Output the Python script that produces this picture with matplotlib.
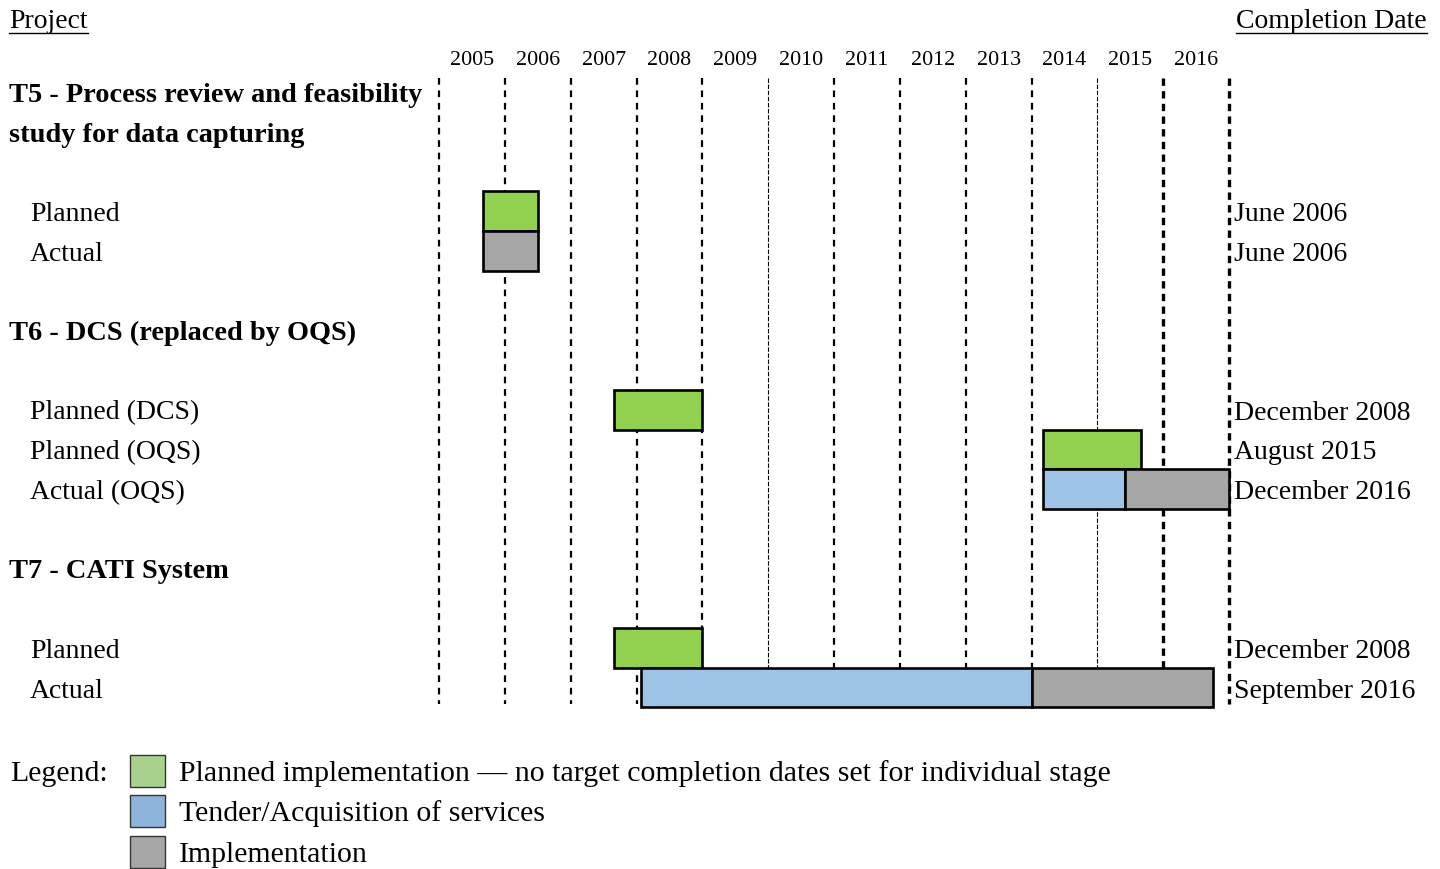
import matplotlib
matplotlib.use("Agg")
import matplotlib.pyplot as plt
from matplotlib import transforms
from matplotlib.patches import Rectangle
from matplotlib.lines import Line2D

plt.rcParams['font.family'] = ['Liberation Serif', 'DejaVu Serif']

# ---------------- data ----------------
years = list(range(2005, 2017))
header_lines = ["T5 - Process review and feasibility",
                "study for data capturing",
                "T6 - DCS (replaced by OQS)",
                "T7 - CATI System"]
header_rows = [0, 1, 6, 12]

row_labels = ["Planned", "Actual",
              "Planned (DCS)", "Planned (OQS)", "Actual (OQS)",
              "Planned", "Actual"]
row_index = [3, 4, 8, 9, 10, 14, 15]
completion = ["June 2006", "June 2006",
              "December 2008", "August 2015", "December 2016",
              "December 2008", "September 2016"]

# segments: (row position in row_labels, start year, end year, kind)
seg_row = [0, 1, 2, 3, 4, 4, 5, 6, 6]
seg_start = [2005.67, 2005.67, 2007.66, 2014.17, 2014.17, 2015.42, 2007.66, 2008.07, 2014.0]
seg_end = [2006.5, 2006.5, 2009.0, 2015.67, 2015.42, 2017.0, 2009.0, 2014.0, 2016.75]
seg_kind = ["plan", "impl", "plan", "plan", "tender", "impl", "plan", "tender", "impl"]

bar_colors = {"plan": "#92D050", "tender": "#9DC3E6", "impl": "#A6A6A6"}
legend_labels = ["Planned implementation \u2014 no target completion dates set for individual stage",
                 "Tender/Acquisition of services",
                 "Implementation"]
legend_colors = ["#A9D18E", "#8FB4DC", "#A6A6A6"]

# ---------------- figure ----------------
W, H = 1440, 870
fig = plt.figure(figsize=(W / 100, H / 100), dpi=100)
x0, x1 = 439, 1229
ytop, ybot = 73.2, 708.5
ax = fig.add_axes([x0 / W, (H - ybot) / H, (x1 - x0) / W, (ybot - ytop) / H])
ax.set_xlim(2005, 2017)
ax.set_ylim(15.5, -0.5)
ax.axis('off')

FS = 20.0
FSB = 20.4
FSL = 21.5
DY = 0.06  # small downward nudge of text rows (row units)

# grid lines (year boundaries)
line_styles = {2010: (0.8, (0, (4, 1.5))), 2015: (0.8, (0, (4, 1.5))),
               2016: (2.4, (0, (2.2, 1.6))), 2017: (2.4, (0, (2.2, 1.6)))}
for yb in range(2005, 2018):
    lw, ls = line_styles.get(yb, (1.6, (0, (3, 2.6))))
    ax.plot([yb, yb], [-0.35, 15.4], color='black', lw=lw, linestyle=ls,
            zorder=1, clip_on=False)

# year labels
for y in years:
    ax.text(y + 0.5, -0.83, str(y), ha='center', va='center', fontsize=15.8)

# bars
for r, s, e, k in zip(seg_row, seg_start, seg_end, seg_kind):
    ax.barh(row_index[r], e - s, left=s, height=1.0, color=bar_colors[k],
            edgecolor='black', linewidth=1.9, zorder=3, clip_on=False)

# text on left / right
tl = transforms.blended_transform_factory(fig.transFigure, ax.transData)
for h, r in zip(header_lines, header_rows):
    ax.text(9 / W, r + DY, h, transform=tl, ha='left', va='center', fontsize=FSB,
            fontweight='bold')
for lab, r in zip(row_labels, row_index):
    ax.text(30 / W, r + DY, lab, transform=tl, ha='left', va='center', fontsize=FS)
for lab, r in zip(completion, row_index):
    ax.text(1234 / W, r + DY, lab, transform=tl, ha='left', va='center', fontsize=FS)

# column headings (underlined)
t1 = fig.text(9 / W, 1 - 22 / H, "Project", ha='left', va='center', fontsize=FS)
t2 = fig.text(1427 / W, 1 - 22 / H, "Completion Date", ha='right', va='center', fontsize=FS)
fig.canvas.draw()
for t in (t1, t2):
    bb = t.get_window_extent().transformed(fig.transFigure.inverted())
    yl = 1 - 34 / H
    fig.add_artist(Line2D([bb.x0, bb.x1], [yl, yl], transform=fig.transFigure,
                          color='black', lw=1.0))

# legend
fig.text(10 / W, 1 - 774 / H, "Legend:", ha='left', va='center', fontsize=FSL)
leg_y = [772, 812, 853]
for lab, c, yy in zip(legend_labels, legend_colors, leg_y):
    fig.add_artist(Rectangle((130 / W, 1 - (yy + 16) / H), 35 / W, 32 / H,
                             transform=fig.transFigure, facecolor=c,
                             edgecolor='#333333', lw=1.0))
    fig.text(179 / W, 1 - (yy + 2) / H, lab, ha='left', va='center', fontsize=FSL)

fig.savefig("out.png", dpi=100)
